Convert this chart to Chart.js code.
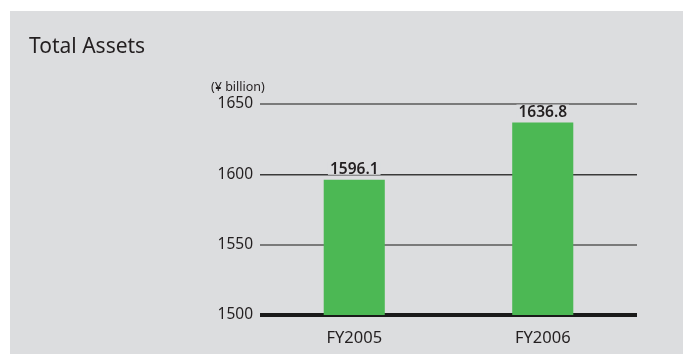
<!DOCTYPE html>
<html>
<head>
<meta charset="UTF-8">
<title>Total Assets</title>
<script src="https://cdn.jsdelivr.net/npm/chart.js@4.4.1/dist/chart.umd.min.js"></script>
<style>
  html, body { margin: 0; padding: 0; background: #fff; }
  #panel { position: absolute; left: 10px; top: 11px; width: 673px; height: 343px; background: #dcdddf; }
  #wrap { position: absolute; left: 0; top: 0; width: 683px; height: 354px; }
</style>
</head>
<body>
<div id="panel"></div>
<div id="wrap"><canvas id="assetsChart"></canvas></div>
<script>
// data
const categories = ['FY2005', 'FY2006'];
const totalAssets = [1596.1, 1636.8];
const yTicks = [1500, 1550, 1600, 1650];

const textColor = '#231f20';
const panelColor = '#dcdddf';

// title, unit and value labels
const labelsPlugin = {
    id: 'labelsPlugin',
    afterDatasetsDraw(chart) {
        const ctx = chart.ctx;
        ctx.save();
        ctx.fillStyle = textColor;
        ctx.textBaseline = 'alphabetic';

        ctx.font = '21px "Noto Sans", sans-serif';
        ctx.textAlign = 'left';
        ctx.fillText('Total Assets', 29, 53);

        ctx.font = '12.5px "Noto Sans", sans-serif';
        ctx.fillText('(¥ billion)', 211, 91);

        ctx.font = '600 15.5px "Noto Sans", sans-serif';
        ctx.textAlign = 'center';
        chart.getDatasetMeta(0).data.forEach((bar, i) => {
            const txt = totalAssets[i].toFixed(1);
            const w = ctx.measureText(txt).width;
            const y = bar.y - 6;
            ctx.fillStyle = panelColor;
            ctx.fillRect(bar.x - w / 2 - 2, y - 12, w + 4, 13);
            ctx.fillStyle = textColor;
            ctx.fillText(txt, bar.x, y);
        });
        ctx.restore();
    }
};

new Chart(document.getElementById('assetsChart'), {
    type: 'bar',
    data: {
        labels: categories,
        datasets: [{
            label: 'Total Assets',
            data: totalAssets,
            backgroundColor: '#4cb854',
            borderWidth: 0,
            barPercentage: 0.324,
            categoryPercentage: 1
        }]
    },
    options: {
        responsive: true,
        maintainAspectRatio: false,
        animation: false,
        layout: { padding: { left: 0, top: 104, right: 46, bottom: 0 } },
        plugins: {
            legend: { display: false },
            tooltip: { enabled: false }
        },
        scales: {
            x: {
                grid: { display: false },
                border: { display: false },
                ticks: {
                    color: textColor,
                    padding: 5,
                    font: { family: '"Noto Sans", sans-serif', size: 16.5 }
                },
                afterFit(scale) { scale.height = 39; }
            },
            y: {
                min: 1500,
                max: 1650,
                afterBuildTicks(scale) { scale.ticks = yTicks.map(v => ({ value: v })); },
                afterFit(scale) { scale.width = 260; },
                border: { display: false },
                grid: {
                    drawTicks: false,
                    color: c => c.tick.value === 1500 ? '#1a1a1a' : (c.tick.value === 1600 ? '#3a3a3a' : '#7a7a7a'),
                    lineWidth: c => c.tick.value === 1500 ? 4 : (c.tick.value === 1600 ? 1.5 : 2)
                },
                ticks: {
                    color: textColor,
                    padding: 7,
                    font: { family: '"Noto Sans", sans-serif', size: 15.5 },
                    callback: v => String(v)
                }
            }
        }
    },
    plugins: [labelsPlugin]
});
</script>
</body>
</html>
